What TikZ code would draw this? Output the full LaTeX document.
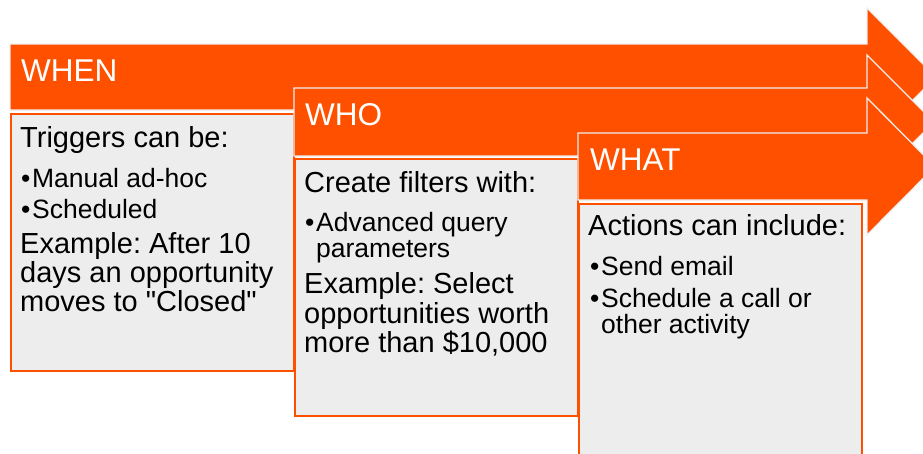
\documentclass[tikz,border=0pt]{standalone}
\usepackage{fontspec}
\setmainfont{Liberation Sans}[Ligatures=TeXOff]
\definecolor{orng}{HTML}{FF5000}
\definecolor{boxgray}{HTML}{EDEDED}
\definecolor{edgegray}{HTML}{EEEEEE}
\newcommand{\bl}{\makebox[11pt][l]{\textbullet}}
\frenchspacing
\begin{document}
\begin{tikzpicture}[x=1pt,y=-1pt,
  arrowshape/.style={fill=orng, draw=edgegray, line width=1.3pt, line join=miter},
  panel/.style={fill=boxgray, draw=orng, line width=2pt},
  headtxt/.style={anchor=base west, inner sep=0pt, text=white, font=\fontsize{31.5}{34}\selectfont},
  maintxt/.style={anchor=base west, inner sep=0pt, font=\fontsize{29}{30}\selectfont},
  bultxt/.style={anchor=base west, inner sep=0pt, font=\fontsize{26.5}{28}\selectfont}]
\useasboundingbox (0,0) rectangle (923,453);
\clip (0,0) rectangle (923,453);
% WHEN
\draw[arrowshape] (10,44) -- (867,44) -- (867,8) -- (936,77) -- (867,146) -- (867,110) -- (10,110) -- cycle;
\draw[panel] (11,114) rectangle (294,371);
\node[headtxt] (h1) at (21,81) {WHEN};
\node[maintxt] (a1) at (20,147) {Triggers can be:};
\node[bultxt] (a2) at (21,187) {\bl Manual ad-hoc};
\node[bultxt] (a3) at (21,218) {\bl Scheduled};
\node[maintxt] (a4) at (20,253) {Example: After 10};
\node[maintxt] (a5) at (20,282) {days an opportunity};
\node[maintxt] (a6) at (20,311) {moves to "Closed"};
% WHO
\draw[arrowshape] (294,88) -- (867,88) -- (867,55) -- (934,122) -- (867,189) -- (867,156) -- (294,156) -- cycle;
\draw[panel] (295,159) rectangle (578,416);
\node[headtxt] (h2) at (305,125) {WHO};
\node[maintxt] (b1) at (304,192) {Create filters with:};
\node[bultxt] (b2) at (305,231) {\bl Advanced query};
\node[bultxt] (b3) at (316,257) {parameters};
\node[maintxt] (b4) at (304,293) {Example: Select};
\node[maintxt] (b5) at (304,323) {opportunities worth};
\node[maintxt] (b6) at (304,352) {more than \$10,000};
% WHAT
\draw[arrowshape] (578,133) -- (867,133) -- (867,98) -- (935,166.5) -- (867,235) -- (867,200) -- (578,200) -- cycle;
\draw[panel] (579,204) rectangle (862,470);
\node[headtxt] (h3) at (590,170) {WHAT};
\node[maintxt] (c1) at (588,235) {Actions can include:};
\node[bultxt] (c2) at (590,275) {\bl Send email};
\node[bultxt] (c3) at (590,307) {\bl Schedule a call or};
\node[bultxt] (c4) at (601,333) {other activity};
\end{tikzpicture}
\end{document}
